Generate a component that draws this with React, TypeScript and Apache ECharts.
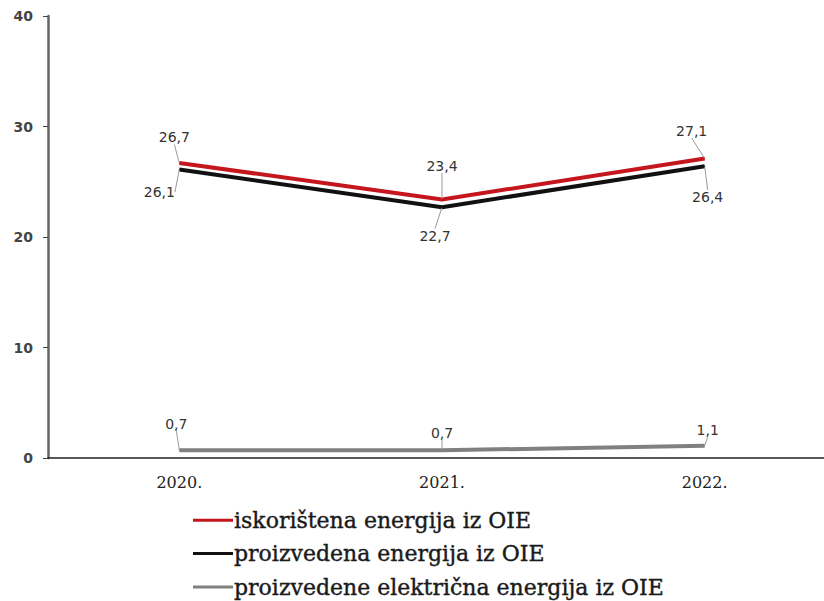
import React, { useEffect, useRef } from "react";
import * as echarts from "echarts";

const categories = ["2020.", "2021.", "2022."];
const iskoristena = [26.7, 23.4, 27.1];
const proizvedena = [26.1, 22.7, 26.4];
const elektricna = [0.7, 0.7, 1.1];
const seriesNames = [
  "iskorištena energija iz OIE",
  "proizvedena energija iz OIE",
  "proizvedene električna energija iz OIE",
];

const fmt = (v: number) => String(v).replace(".", ",");

const offsets = [
  [[-5, -13], [0, -21], [-13, -15]],
  [[-20, 10], [-7, 16], [3, 18]],
  [[-3, -14], [0, -5], [3, -3]],
];

export default function App() {
  const ref = useRef<HTMLDivElement>(null);
  useEffect(() => {
    if (!ref.current) return;
    const chart = echarts.init(ref.current, null, { renderer: "svg" });
    const mkSeries = (name: string, data: number[], color: string, pos: string, idx: number) => ({
      name,
      type: "line",
      data,
      symbol: "circle",
      symbolSize: 1,
      showSymbol: true,
      lineStyle: { color, width: 4 },
      itemStyle: { color },
      label: {
        show: true,
        position: pos,
        formatter: (p: any) => fmt(p.value),
        fontFamily: "DejaVu Sans, sans-serif",
        fontSize: 14,
        color: "#333",
      },
      labelLine: { show: true, lineStyle: { color: "#999", width: 1 } },
      labelLayout: (p: any) => ({ dx: offsets[idx][p.dataIndex][0], dy: offsets[idx][p.dataIndex][1] }),
      emphasis: { disabled: true },
    });
    chart.setOption({
      animation: false,
      backgroundColor: "#fff",
      grid: { left: 48, width: 788, top: 16, bottom: 143, outerBoundsMode: "none", containLabel: false },
      xAxis: {
        type: "category",
        data: categories,
        boundaryGap: true,
        axisLine: { show: true, lineStyle: { color: "#222", width: 1.5 } },
        axisTick: { show: false },
        axisLabel: {
          margin: 16,
          fontFamily: "DejaVu Serif, serif",
          fontSize: 16,
          color: "#222",
        },
      },
      yAxis: {
        type: "value",
        min: 0,
        max: 40,
        interval: 10,
        axisLine: { show: true, lineStyle: { color: "#666", width: 2.5 } },
        axisTick: { show: true, length: 5, lineStyle: { color: "#444" } },
        splitLine: { show: false },
        axisLabel: {
          margin: 15,
          fontFamily: "DejaVu Sans, sans-serif",
          fontSize: 14,
          fontWeight: "bold",
          color: "#444",
        },
      },
      legend: {
        orient: "vertical",
        left: 193,
        top: 509,
        padding: 0,
        itemWidth: 40,
        itemHeight: 3,
        itemGap: 11,
        icon: "rect",
        data: seriesNames,
        textStyle: {
          fontFamily: "DejaVu Serif, serif",
          fontSize: 22,
          color: "#1a1a1a",
          textBorderColor: "#1a1a1a",
          textBorderWidth: 0.4,
          padding: [0, 0, 0, -4],
        },
      },
      series: [
        mkSeries(seriesNames[0], iskoristena, "#c4161c", "top", 0),
        mkSeries(seriesNames[1], proizvedena, "#111111", "bottom", 1),
        mkSeries(seriesNames[2], elektricna, "#808080", "top", 2),
      ],
    });
    return () => chart.dispose();
  }, []);
  return (
    <div
      ref={ref}
      style={{ position: "absolute", left: 0, top: 0, width: 824, height: 601 }}
    />
  );
}
